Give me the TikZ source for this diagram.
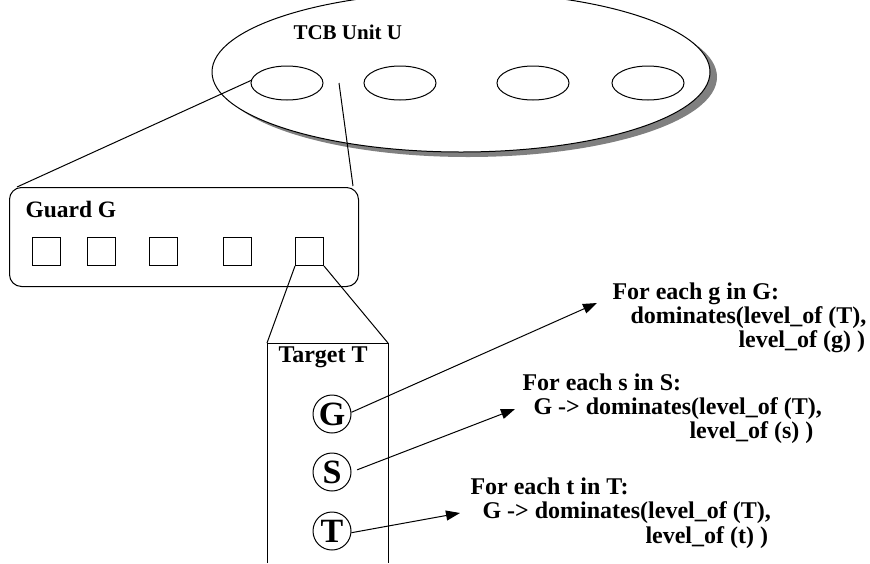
\documentclass[tikz,border=0pt]{standalone}
\usepackage{fontspec}
\setmainfont{Liberation Serif}
\usetikzlibrary{arrows.meta,shapes.geometric}
\begin{document}
\begin{tikzpicture}[x=1pt,y=-1pt,line width=1pt,
  lbl/.style={inner sep=0pt,anchor=base west,font=\bfseries\fontsize{24}{24}\selectfont},
  sq/.style={draw,minimum size=28pt,inner sep=0pt},
  sub/.style={draw,ellipse,minimum width=72pt,minimum height=34pt,inner sep=0pt},
  ltr/.style={draw,circle,minimum size=38pt,inner sep=0pt,font=\bfseries\fontsize{34}{34}\selectfont},
  arr/.style={-{Triangle[length=14pt,width=10pt]}}]
\useasboundingbox (0,0) rectangle (870,563);
% TCB unit
\node[ellipse,fill=black!50,minimum width=498pt,minimum height=160pt,inner sep=0pt] (tcbshadow) at (468,77) {};
\node[ellipse,draw,fill=white,minimum width=498pt,minimum height=160pt,inner sep=0pt] (tcb) at (461,72) {};
\node[lbl,font=\bfseries\fontsize{21}{24}\selectfont] (tcblabel) at (293,39) {TCB Unit U};
\node[sub] (e1) at (287,83) {};
\node[sub] (e2) at (400,83) {};
\node[sub] (e3) at (533,83) {};
\node[sub] (e4) at (648,83) {};
% guard
\node[draw,rounded corners=12pt,minimum width=349pt,minimum height=99pt,anchor=north west,inner sep=0pt] (guard) at (9,187) {};
\node[lbl,font=\bfseries\fontsize{23.5}{24}\selectfont] (guardlabel) at (25,217) {Guard G};
\node[sq] (s1) at (46,251.5) {};
\node[sq] (s2) at (101.5,251.5) {};
\node[sq] (s3) at (163,251.5) {};
\node[sq] (s4) at (237.5,251.5) {};
\node[sq] (s5) at (309.5,251.5) {};
\coordinate (a1) at (252,80);
\coordinate (a2) at (17,187);
\coordinate (b1) at (339,83);
\coordinate (b2) at (353,186);
\draw (a1) -- (a2);
\draw (b1) -- (b2);
% target
\coordinate (ttl) at (267,343);
\coordinate (ttr) at (388,343);
\coordinate (tbl) at (267,563);
\coordinate (tbr) at (388,563);
\draw (tbl) -- (ttl) -- (ttr) -- (tbr);
\draw (s5.south west) -- (ttl);
\draw (s5.south east) -- (ttr);
\node[lbl] (targetlabel) at (278,362) {Target T};
\node[ltr] (cG) at (332,414) {G};
\node[ltr] (cS) at (332,472) {S};
\node[ltr] (cT) at (332,531) {T};
% rules
\coordinate (t1) at (597,303);
\coordinate (t2) at (515,409);
\coordinate (t3) at (460,513);
\draw[arr] (cG.5) -- (t1);
\draw[arr,shorten <=6pt] (cS.east) -- (t2);
\draw[arr] (cT.-5) -- (t3);
\node[lbl] (r1a) at (612,299) {For each g in G:};
\node[lbl] (r1b) at (630,323) {dominates(level\_of (T),};
\node[lbl] (r1c) at (738,347) {level\_of (g) )};
\node[lbl] (r2a) at (522,390) {For each s in S:};
\node[lbl] (r2b) at (533,414) {G -> dominates(level\_of (T),};
\node[lbl] (r2c) at (689,438) {level\_of (s) )};
\node[lbl] (r3a) at (470,494) {For each t in T:};
\node[lbl] (r3b) at (482,518) {G -> dominates(level\_of (T),};
\node[lbl] (r3c) at (645,543) {level\_of (t) )};
\end{tikzpicture}
\end{document}
